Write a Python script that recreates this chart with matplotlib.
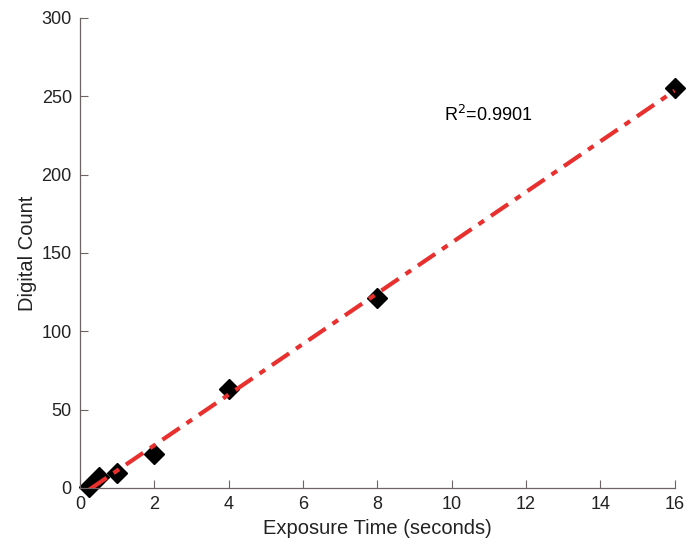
import numpy as np
import matplotlib
matplotlib.use("Agg")
import matplotlib.pyplot as plt

plt.rcParams['font.family'] = ['Liberation Sans', 'DejaVu Sans']

exposure_s = [0.25, 0.5, 1, 2, 4, 8, 16]
digital_count = [0.6, 7, 9.5, 22, 63, 121, 255]
r2_text = "R$^2$=0.9901"

x_ticks = list(range(0, 17, 2))
y_ticks = list(range(0, 301, 50))

slope, intercept = np.polyfit(exposure_s, digital_count, 1)
fit_x = np.array([min(exposure_s), max(exposure_s)])
fit_y = slope * fit_x + intercept

fig = plt.figure(figsize=(6.97, 5.44), dpi=100)
ax = fig.add_axes([0.115, 0.103, 0.853, 0.864])

ax.plot(exposure_s, digital_count, linestyle='none', marker='D',
        markersize=10, color='black', zorder=2, clip_on=False)
ax.plot(fit_x, fit_y, linestyle='-.', color='#e8302f', linewidth=3,
        dashes=(5, 2.0, 1.6, 2.0), zorder=3)

ax.set_xlim(0, 16)
ax.set_ylim(0, 300)
ax.set_xticks(x_ticks)
ax.set_yticks(y_ticks)

for side in ('top', 'right'):
    ax.spines[side].set_visible(False)
for side in ('left', 'bottom'):
    ax.spines[side].set_color('#6e6464')
    ax.spines[side].set_linewidth(0.9)
ax.tick_params(direction='in', length=6, color='#6e6464', labelsize=13,
               labelcolor='#222222', pad=6)

ax.set_xlabel('Exposure Time (seconds)', fontsize=14.5, color='#222222', labelpad=4)
ax.set_ylabel('Digital Count', fontsize=14.5, color='#222222', labelpad=3)

ax.text(9.8, 238, r2_text, fontsize=13, color='black', va='center')

fig.savefig('out.png', dpi=100)
